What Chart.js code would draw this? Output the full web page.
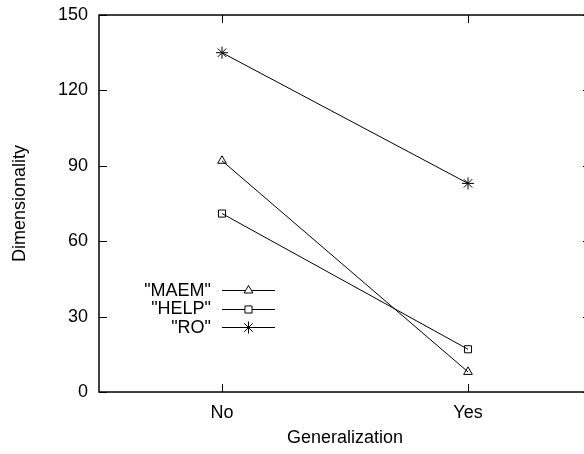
<!DOCTYPE html>
<html>
<head>
<meta charset="utf-8">
<script src="https://cdn.jsdelivr.net/npm/chart.js@4"></script>
<style>
  html, body { margin: 0; padding: 0; background: #fff; overflow: hidden; }
  #wrap { width: 584px; height: 454px; overflow: hidden; }
</style>
</head>
<body>
<div id="wrap"><canvas id="chart" width="600" height="454"></canvas></div>
<script>
// data
const categories = ["No", "Yes"];
const maemValues = [92, 8];
const helpValues = [71, 17];
const roValues = [135, 83];
const yTicks = { min: 0, max: 150, step: 30 };

const FONT = { family: "'Liberation Sans', Arial, sans-serif", size: 18 };
const TICK_LEN = 8;

// gnuplot style: box frame + inward ticks on all four sides
const framePlugin = {
  id: "frame",
  afterDatasetsDraw(chart) {
    const { ctx, chartArea: a, scales } = chart;
    ctx.save();
    ctx.strokeStyle = "#000";
    ctx.lineWidth = 1.5;
    ctx.strokeRect(a.left, a.top, a.right - a.left, a.bottom - a.top);
    ctx.lineWidth = 1;
    ctx.beginPath();
    scales.y.ticks.forEach((t) => {
      const y = Math.round(scales.y.getPixelForValue(t.value)) + 0.5;
      ctx.moveTo(a.left, y); ctx.lineTo(a.left + TICK_LEN, y);
      ctx.moveTo(a.right, y); ctx.lineTo(a.right - TICK_LEN, y);
    });
    scales.x.ticks.forEach((t, i) => {
      const x = Math.round(scales.x.getPixelForTick(i)) + 0.5;
      ctx.moveTo(x, a.bottom); ctx.lineTo(x, a.bottom - TICK_LEN);
      ctx.moveTo(x, a.top); ctx.lineTo(x, a.top + TICK_LEN);
    });
    ctx.stroke();
    ctx.restore();
  },
};

// legend inside the plot: label on the left, line sample with marker on the right
const keyPlugin = {
  id: "key",
  afterDraw(chart) {
    const { ctx } = chart;
    const textRight = 211, lineL = 222, lineR = 275, rowY0 = 290, rowH = 18.5;
    ctx.save();
    ctx.font = `${FONT.size}px ${FONT.family}`;
    ctx.textAlign = "right";
    ctx.textBaseline = "middle";
    chart.data.datasets.forEach((ds, i) => {
      const y = rowY0 + i * rowH;
      ctx.fillStyle = "#000";
      ctx.fillText(ds.label, textRight, y + 1);
      ctx.strokeStyle = "#000";
      ctx.lineWidth = 1;
      ctx.beginPath();
      ctx.moveTo(lineL, Math.round(y) + 0.5);
      ctx.lineTo(lineR, Math.round(y) + 0.5);
      ctx.stroke();
      ctx.fillStyle = "#fff";
      Chart.helpers.drawPoint(ctx, {
        pointStyle: ds.pointStyle,
        radius: ds.pointRadius,
        borderWidth: 1,
        rotation: 0,
      }, (lineL + lineR) / 2, Math.round(y) + 0.5);
    });
    ctx.restore();
  },
};

function series(label, data, style, radius) {
  return {
    label,
    data,
    borderColor: "#000",
    backgroundColor: "rgba(0,0,0,0)",
    borderWidth: 1,
    pointStyle: style,
    pointRadius: radius,
    pointBorderWidth: 1,
    pointBorderColor: "#000",
    pointBackgroundColor: "rgba(0,0,0,0)",
    tension: 0,
    fill: false,
  };
}

new Chart(document.getElementById("chart"), {
  type: "line",
  data: {
    labels: categories,
    datasets: [
      series('"MAEM"', maemValues, "triangle", 5),
      series('"HELP"', helpValues, "rect", 5),
      series('"RO"', roValues, "star", 6),
    ],
  },
  options: {
    responsive: false,
    animation: false,
    layout: { padding: { top: 15, right: 9, left: 0, bottom: 0 } },
    plugins: {
      legend: { display: false },
      tooltip: { enabled: false },
    },
    scales: {
      x: {
        type: "category",
        offset: true,
        grid: { display: false, drawTicks: false },
        border: { display: false },
        ticks: { color: "#000", font: FONT, padding: 10 },
        title: { display: true, text: "Generalization", color: "#000", font: FONT, padding: { top: 0, bottom: 5 } },
        afterFit(scale) { scale.height = 62; scale.paddingLeft = 0; scale.paddingRight = 0; },
      },
      y: {
        min: yTicks.min,
        max: yTicks.max,
        grid: { display: false, drawTicks: false },
        border: { display: false },
        ticks: { stepSize: yTicks.step, color: "#000", font: FONT, padding: 11 },
        title: { display: true, text: "Dimensionality", color: "#000", font: FONT, padding: { top: 9, bottom: 0 } },
        afterFit(scale) { scale.width = 99; scale.paddingTop = 0; scale.paddingBottom = 0; },
      },
    },
  },
  plugins: [framePlugin, keyPlugin],
});
</script>
</body>
</html>
